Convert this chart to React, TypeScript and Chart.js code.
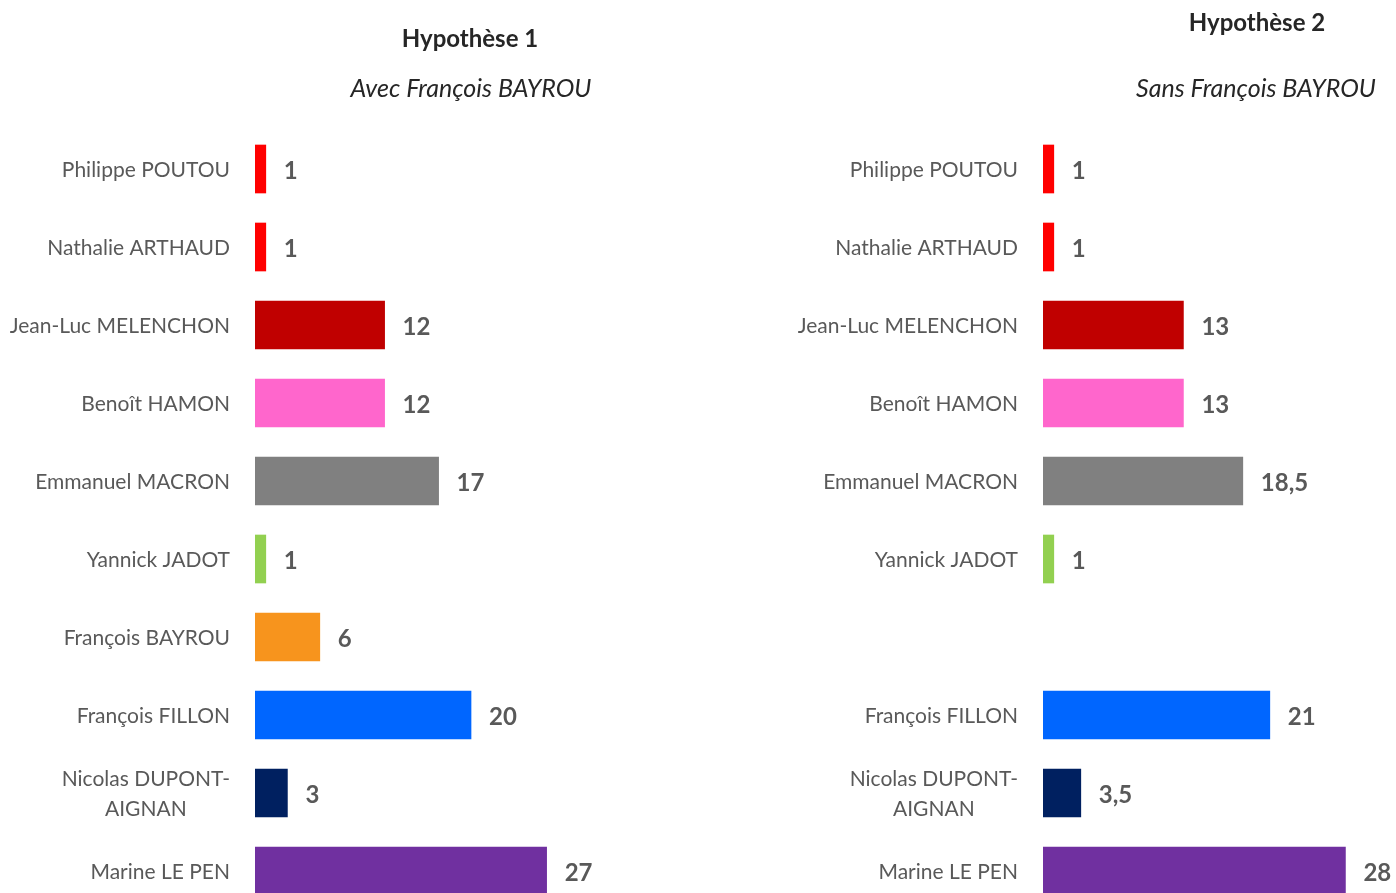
import React, { useEffect, useRef } from 'react';
import { Chart, registerables } from 'chart.js';

Chart.register(...registerables);

const FONT = 'Lato, "Open Sans", sans-serif';

const candidates1: (string | string[])[] = [
  'Philippe POUTOU',
  'Nathalie ARTHAUD',
  'Jean-Luc MELENCHON',
  'Benoît HAMON',
  'Emmanuel MACRON',
  'Yannick JADOT',
  'François BAYROU',
  'François FILLON',
  ['Nicolas DUPONT-', 'AIGNAN'],
  'Marine LE PEN',
];
const candidates2: (string | string[])[] = [
  'Philippe POUTOU',
  'Nathalie ARTHAUD',
  'Jean-Luc MELENCHON',
  'Benoît HAMON',
  'Emmanuel MACRON',
  'Yannick JADOT',
  '',
  'François FILLON',
  ['Nicolas DUPONT-', 'AIGNAN'],
  'Marine LE PEN',
];
const hyp1Values: (number | null)[] = [1, 1, 12, 12, 17, 1, 6, 20, 3, 27];
const hyp2Values: (number | null)[] = [1, 1, 13, 13, 18.5, 1, null, 21, 3.5, 28];
const barColors = [
  '#FF0000',
  '#FF0000',
  '#C00000',
  '#FF66CC',
  '#808080',
  '#92D050',
  '#F7941D',
  '#0066FF',
  '#002060',
  '#7030A0',
];

const labelPlugin = {
  id: 'customLabels',
  afterDatasetsDraw(chart: any) {
    const ctx = chart.ctx as CanvasRenderingContext2D;
    const yScale = chart.scales.y;
    const labels = chart.data.labels as (string | string[])[];
    ctx.save();
    ctx.textBaseline = 'middle';
    ctx.fillStyle = '#595959';
    ctx.font = `21px ${FONT}`;
    const right = chart.chartArea.left - 25;
    labels.forEach((lab, i) => {
      const lines = Array.isArray(lab) ? lab : [lab];
      const cy = yScale.getPixelForValue(i);
      const maxW = Math.max(...lines.map((l) => ctx.measureText(l).width));
      ctx.textAlign = 'center';
      lines.forEach((l, j) => {
        const ly = cy + 1 + (j - (lines.length - 1) / 2) * 30;
        ctx.fillText(l, right - maxW / 2, ly);
      });
    });
    const meta = chart.getDatasetMeta(0);
    const data = chart.data.datasets[0].data;
    ctx.font = `bold 24px ${FONT}`;
    ctx.textAlign = 'left';
    meta.data.forEach((bar: any, i: number) => {
      const v = data[i];
      if (v == null) return;
      ctx.fillText(String(v).replace('.', ','), bar.x + 18, bar.y + 2);
    });
    ctx.restore();
  },
};

function BarPanel({ labels, values, left }: { labels: (string | string[])[]; values: (number | null)[]; left: number }) {
  const ref = useRef<HTMLCanvasElement>(null);
  useEffect(() => {
    if (!ref.current) return;
    const chart = new Chart(ref.current, {
      type: 'bar',
      data: {
        labels: labels as any,
        datasets: [
          {
            data: values as any,
            backgroundColor: barColors,
            borderWidth: 0,
            barThickness: 48,
          },
        ],
      },
      options: {
        indexAxis: 'y',
        animation: false,
        responsive: false,
        maintainAspectRatio: false,
        layout: { padding: { left: 255, top: 130, bottom: 20, right: 0 } },
        scales: {
          x: { display: false, min: 0, max: 41.2 },
          y: { display: false },
        },
        plugins: {
          legend: { display: false },
          tooltip: { enabled: false },
          title: { display: false },
        },
      },
      plugins: [labelPlugin],
    });
    return () => chart.destroy();
  }, []);
  return (
    <canvas
      ref={ref}
      width={700}
      height={930}
      style={{ position: 'absolute', left, top: 0, width: 700, height: 930 }}
    />
  );
}

const titleStyle: React.CSSProperties = {
  position: 'absolute',
  transform: 'translate(-50%, -50%)',
  fontFamily: FONT,
  fontSize: 24,
  color: '#262626',
  whiteSpace: 'nowrap',
};

export default function App() {
  return (
    <div
      style={{
        position: 'fixed',
        left: 0,
        top: 0,
        width: 1396,
        height: 893,
        overflow: 'hidden',
        background: '#ffffff',
      }}
    >
      <BarPanel labels={candidates1} values={hyp1Values} left={0} />
      <BarPanel labels={candidates2} values={hyp2Values} left={788} />
      <div style={{ ...titleStyle, left: 470, top: 37, fontWeight: 'bold' }}>Hypothèse 1</div>
      <div style={{ ...titleStyle, left: 471, top: 87, fontStyle: 'italic', fontSize: 25 }}>Avec François BAYROU</div>
      <div style={{ ...titleStyle, left: 1257, top: 21, fontWeight: 'bold' }}>Hypothèse 2</div>
      <div style={{ ...titleStyle, left: 1256, top: 87, fontStyle: 'italic', fontSize: 25 }}>Sans François BAYROU</div>
    </div>
  );
}
